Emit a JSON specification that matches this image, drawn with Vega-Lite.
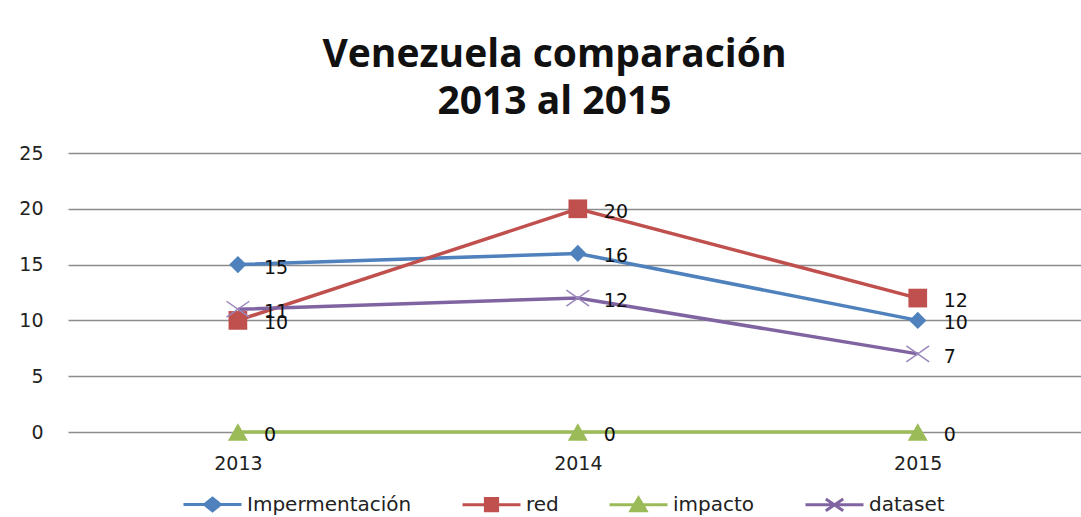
{
  "$schema": "https://vega.github.io/schema/vega-lite/v6.json",
  "autosize": "none",
  "width": 1013,
  "height": 279,
  "padding": {"left": 68, "top": 153, "right": 0, "bottom": 85},
  "background": "white",
  "title": {
    "text": ["Venezuela comparación", "2013 al 2015"],
    "font": "Open Sans",
    "fontSize": 39,
    "fontWeight": "bold",
    "color": "#111",
    "lineHeight": 47,
    "anchor": "middle",
    "dx": -20,
    "offset": 22
  },
  "config": {
    "view": {"stroke": null},
    "font": "DejaVu Sans"
  },
  "data": {
    "values": [
      {"year": "2013", "series": "Impermentación", "value": 15},
      {"year": "2014", "series": "Impermentación", "value": 16},
      {"year": "2015", "series": "Impermentación", "value": 10},
      {"year": "2013", "series": "red", "value": 10},
      {"year": "2014", "series": "red", "value": 20},
      {"year": "2015", "series": "red", "value": 12},
      {"year": "2013", "series": "impacto", "value": 0},
      {"year": "2014", "series": "impacto", "value": 0},
      {"year": "2015", "series": "impacto", "value": 0},
      {"year": "2013", "series": "dataset", "value": 11},
      {"year": "2014", "series": "dataset", "value": 12},
      {"year": "2015", "series": "dataset", "value": 7}
    ]
  },
  "encoding": {
    "x": {
      "field": "year", "type": "ordinal",
      "scale": {"type": "point", "padding": 0.49, "align": 0.51},
      "axis": {"title": null, "labelAngle": 0, "ticks": false, "domain": false, "labelPadding": 22, "labelFontSize": 19, "labelColor": "#222", "labelFont": "DejaVu Sans", "grid": false}
    },
    "y": {
      "field": "value", "type": "quantitative",
      "scale": {"domain": [0, 25], "nice": false},
      "axis": {"title": null, "values": [0, 5, 10, 15, 20, 25], "ticks": false, "domain": false, "labelPadding": 25, "labelFontSize": 19, "labelColor": "#222", "labelFont": "DejaVu Sans", "gridColor": "#8c8c8c", "gridWidth": 1.5}
    }
  },
  "layer": [
    {
      "mark": {"type": "line", "strokeWidth": 3.5},
      "encoding": {
        "color": {
          "field": "series", "type": "nominal",
          "scale": {"domain": ["Impermentación", "red", "impacto", "dataset"], "range": ["#4F81BD", "#C0504D", "#9BBB59", "#8064A2"]},
          "legend": {
            "orient": "none",
            "legendX": 114,
            "legendY": 321,
            "direction": "horizontal",
            "title": null,
            "symbolSize": 3364,
            "symbolStrokeWidth": 3,
            "labelFontSize": 20,
            "labelFont": "DejaVu Sans",
            "labelColor": "#222",
            "labelOffset": 4,
            "columnPadding": 44,
            "labelLimit": 300,
            "encode": {
              "symbols": {
                "update": {
                  "shape": {"signal": "datum.value == 'Impermentación' ? 'M-1,0H1M0,-0.22L0.27,0L0,0.22L-0.27,0Z' : datum.value == 'red' ? 'M-1,0H1M-0.21,-0.21H0.21V0.21H-0.21Z' : datum.value == 'impacto' ? 'M-1,0H1M0,-0.24L0.26,0.2H-0.26Z' : 'M-1,0H1M-0.3,-0.2L0.3,0.2M-0.3,0.2L0.3,-0.2'"},
                  "fill": {"scale": "color", "field": "value"},
                  "stroke": {"scale": "color", "field": "value"},
                  "strokeWidth": {"value": 3},
                  "opacity": {"value": 1}
                }
              }
            }
          }
        }
      }
    },
    {
      "transform": [{"filter": "datum.series != 'dataset'"}],
      "mark": {"type": "point", "filled": true, "opacity": 1},
      "encoding": {
        "fill": {
          "field": "series", "type": "nominal",
          "scale": {"domain": ["Impermentación", "red", "impacto"], "range": ["#4F81BD", "#C0504D", "#9BBB59"]},
          "legend": null
        },
        "shape": {
          "field": "series", "type": "nominal",
          "scale": {"domain": ["Impermentación", "red", "impacto"], "range": ["diamond", "square", "triangle-up"]},
          "legend": null
        },
        "size": {
          "field": "series", "type": "nominal",
          "scale": {"domain": ["Impermentación", "red", "impacto"], "range": [300, 400, 420]},
          "legend": null
        }
      }
    },
    {
      "transform": [{"filter": "datum.series == 'dataset'"}],
      "mark": {"type": "point", "filled": false, "shape": "M-1,-0.7L1,0.7M-1,0.7L1,-0.7", "size": 520, "stroke": "#9a86bb", "strokeWidth": 1.5, "opacity": 1}
    },
    {
      "mark": {"type": "text", "align": "left", "baseline": "middle", "dx": 26, "dy": 3, "fontSize": 19, "font": "DejaVu Sans", "color": "#111"},
      "encoding": {
        "text": {"field": "value", "type": "quantitative"}
      }
    }
  ]
}
